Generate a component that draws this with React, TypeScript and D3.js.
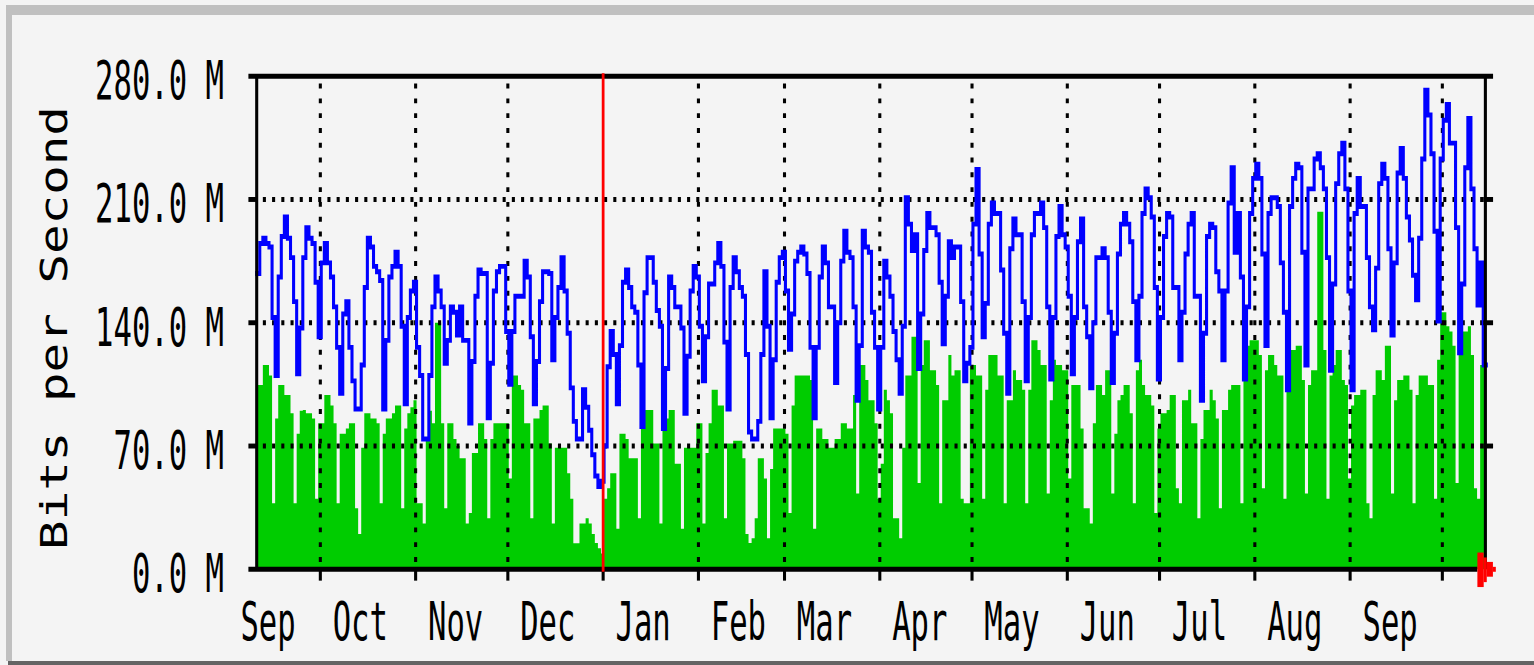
import React from "react";
import * as d3 from "d3";

// Daily average incoming traffic (green area), in Mbit/s
const avgIn: number[] = [
  104.6, 104.6, 116, 116, 110, 37.5, 85.7,
  104.6, 104.6, 99, 99, 88.6, 37.5, 77,
  90, 90.5, 88.6, 88.6, 85.7, 40, 83,
  83, 99, 99, 93, 83, 37.5, 77,
  77, 80, 83, 83, 34.6, 20, 69,
  88.6, 88.6, 85.7, 85.7, 83, 37.5, 77,
  85.7, 85.7, 88.6, 93, 93, 34.6, 80,
  88.6, 92, 96, 37.5, 37.5, 26, 74,
  90, 83, 140, 140, 83, 34.6, 83,
  83, 74, 70, 63, 63, 26, 32,
  66, 66, 83, 83, 74, 29, 74,
  83, 83, 83, 83, 83, 51.6, 110,
  110, 104.6, 102, 83, 83, 29, 85.7,
  85.7, 90.5, 93, 93, 71.5, 26, 69,
  69, 69, 69, 54.5, 40, 14.8, 14.8,
  26, 26, 29, 26, 20, 15, 12,
  9, 40, 46, 54.5, 54.5, 23, 77,
  77, 74, 63, 63, 63, 29, 90.5,
  90.5, 90.5, 90.5, 71.5, 71.5, 26, 85.7,
  85.7, 90.5, 90.5, 60, 60, 23, 69,
  69, 69, 69, 83, 83, 26, 66,
  83, 102, 102, 93, 93, 29, 71.5,
  71.5, 73, 73, 73, 63, 20, 15,
  17.6, 29, 63, 63, 51.6, 17.6, 57,
  80, 80, 80, 80, 77, 32, 93,
  110, 110, 110, 110, 110, 107.5, 23,
  80, 80, 74, 74, 69, 69, 74,
  74, 83, 83, 80, 80, 99, 43,
  116, 116, 107.5, 96, 96, 83, 40,
  60, 102, 96, 88.6, 29, 29, 17.6,
  69, 110, 110, 132, 132, 49, 116,
  130, 130, 113, 113, 104.6, 37.5, 96,
  96, 121.7, 110, 113, 113, 40, 37.5,
  37.5, 116, 116, 110, 110, 40, 102,
  121.7, 121.7, 121.7, 110, 110, 37.5, 96,
  96, 113, 107.5, 107.5, 102, 37.5, 102,
  130, 130, 124.5, 116, 116, 43, 96,
  119, 116, 116, 113, 113, 51.6, 104.6,
  104.6, 104.6, 80, 34.6, 34.6, 26, 83,
  104.6, 104.6, 99, 113, 113, 43, 77,
  96, 99, 104.6, 104.6, 88.6, 37.5, 113,
  119, 104.6, 99, 99, 93, 32, 80,
  88.6, 88.6, 90.5, 99, 99, 46, 37.5,
  96, 96, 102, 83, 83, 29, 74,
  90.5, 90.5, 102, 96, 85.7, 34.6, 90.5,
  90.5, 102, 104.6, 104.6, 104.6, 37.5, 107.5,
  127, 130, 130, 130, 121.7, 46, 113,
  121.7, 121.7, 116, 110, 110, 40, 102,
  124.5, 124.5, 127, 127, 107.5, 43, 104.6,
  113, 113, 203, 203, 124.5, 40, 110,
  116, 124.5, 124.5, 107.5, 104.6, 51.6, 93,
  99, 99, 102, 102, 37.5, 29, 99,
  113, 113, 107.5, 127, 127, 43, 96,
  107.5, 107.5, 110, 110, 102, 37.5, 99,
  110, 110, 110, 104.6, 104.6, 40, 119,
  146, 146, 138, 135, 127, 49, 121.7,
  135, 135, 138, 121.7, 46, 40, 116,
  116,
];

// Daily maximum outgoing traffic (blue line), in Mbit/s
const maxOut: number[] = [
  168, 185, 188, 185, 183, 143, 110,
  166, 189, 200, 188, 177, 152, 111,
  137, 177, 194, 188, 185, 163, 132,
  174, 185, 174, 166, 149, 126, 100,
  145, 152, 126, 107, 91, 91, 116,
  160, 188, 183, 172, 169, 164, 91,
  130, 166, 172, 180, 172, 138, 94,
  143, 158, 163, 126, 110, 74, 74,
  110, 149, 166, 158, 149, 117, 130,
  149, 146, 133, 149, 130, 130, 83,
  118, 155, 170, 168, 168, 86, 117,
  158, 169, 172, 172, 135, 105, 135,
  155, 155, 155, 175, 166, 132, 94,
  118, 152, 169, 169, 168, 119, 143,
  160, 177, 158, 134, 103, 84, 74,
  74, 102, 92, 79, 65, 53, 47,
  50, 70, 115, 135, 122, 94, 127,
  163, 170, 160, 149, 146, 116, 81,
  157, 177, 177, 163, 147, 138, 80,
  114, 166, 160, 149, 149, 137, 88.6,
  121, 158, 172, 166, 138, 107, 132,
  162, 162, 174, 185, 172, 129, 91,
  160, 177, 169, 160, 155, 122, 78,
  74, 74, 84, 122, 169, 138, 86,
  119, 163, 177, 180, 158, 125, 145,
  175, 180, 183, 179, 168, 126, 86,
  126, 166, 183, 174, 149, 149, 106,
  140, 175, 192, 180, 177, 149, 96,
  127, 192, 183, 180, 146, 126, 91,
  126, 175, 166, 155, 135, 119, 100,
  138, 211, 196, 181, 190, 114, 145,
  181, 202, 194, 194, 190, 163, 128,
  155, 186, 177, 183, 183, 152, 107,
  117, 126, 196, 227, 179, 132, 151,
  196, 208, 202, 202, 170, 134, 100,
  182, 199, 190, 190, 152, 107, 143,
  190, 202, 202, 208, 194, 149, 108,
  143, 189, 206, 190, 183, 155, 111,
  143, 186, 199, 149, 132, 103, 140,
  177, 177, 182, 177, 146, 106, 134,
  179, 196, 202, 196, 186, 152, 119,
  155, 202, 216, 211, 200, 160, 108,
  143, 189, 202, 200, 160, 160, 119,
  146, 179, 196, 202, 155, 155, 96,
  134, 189, 196, 194, 169, 158, 119,
  158, 208, 228, 180, 202, 166, 108,
  149, 202, 222, 230, 222, 179, 127,
  202, 211, 211, 206, 174, 146, 102,
  206, 222, 230, 228, 180, 116, 216,
  216, 233, 236, 228, 216, 177, 113,
  162, 219, 236, 242, 216, 158, 102,
  202, 222, 206, 206, 177, 149, 136,
  171, 219, 230, 222, 182, 133, 174,
  225, 239, 222, 200, 187, 167, 153,
  188, 233, 272, 258, 236, 192, 141,
  233, 255, 264, 242, 242, 194, 123,
  162, 228, 256, 216, 182, 150, 174,
  116,
];

const yTickValues: number[] = [0, 70, 140, 210, 280];
const yTickLabels: string[] = ["0.0 M", "70.0 M", "140.0 M", "210.0 M", "280.0 M"];
const monthLabels: string[] = ["Sep", "Oct", "Nov", "Dec", "Jan", "Feb", "Mar", "Apr", "May", "Jun", "Jul", "Aug", "Sep"];
const yAxisTitle = "Bits per Second";

const START = new Date(Date.UTC(2002, 8, 10, 7, 12));
const DAYS = 400;

export default function App() {
  const W = 1534;
  const H = 665;
  // MRTG native graph pixels -> screen scaling
  const SX = 3.074;
  const SY = 4.931;
  const OX = 256.7;
  const OY = 76.2;

  const end = d3.utcDay.offset(START, DAYS);
  const x = d3.scaleUtc().domain([START, end]).range([0, DAYS]);
  const y = d3.scaleLinear().domain([0, 280]).range([100, 0]);

  const dates = d3.range(DAYS + 1).map((i) => d3.utcDay.offset(START, i));
  const pts = (vals: number[]): [number, number][] =>
    dates.map((d, i) => [x(d), y(vals[Math.min(i, vals.length - 1)])] as [number, number]);

  const area = d3
    .area<[number, number]>()
    .x((p) => p[0])
    .y0(y(0))
    .y1((p) => p[1])
    .curve(d3.curveStepAfter);
  const line = d3
    .line<[number, number]>()
    .x((p) => p[0])
    .y((p) => p[1])
    .curve(d3.curveStepAfter);

  const gridMonths = d3.utcMonth.range(new Date(Date.UTC(2002, 9, 1)), end);
  const labelMonths = d3.utcMonth.range(new Date(Date.UTC(2002, 8, 1)), new Date(Date.UTC(2003, 9, 1)));
  const yearStart = new Date(Date.UTC(2003, 0, 1));

  const sx = (v: number) => OX + SX * v;
  const sy = (v: number) => OY + SY * v;

  const x0 = x(START);
  const x1 = x(end);
  const font = "'DejaVu Sans Mono', monospace";

  return (
    <svg
      width={W}
      height={H}
      viewBox={`0 0 ${W} ${H}`}
      style={{ position: "absolute", left: 0, top: 0, display: "block" }}
    >
      <rect x={0} y={0} width={W} height={H} fill="#f4f4f4" />
      <rect x={6} y={5} width={W - 6} height={10} fill="#c0c0c0" />
      <rect x={6} y={5} width={6} height={656} fill="#c0c0c0" />
      <rect x={8} y={661} width={W - 8} height={4} fill="#646464" />

      <g transform={`translate(${OX},${OY}) scale(${SX},${SY})`}>
        <path d={area(pts(avgIn)) || ""} fill="#00cc00" />

        {yTickValues
          .filter((v) => v > 0 && v < 280)
          .map((v) => (
            <line
              key={"hg" + v}
              x1={x0}
              x2={x1}
              y1={y(v)}
              y2={y(v)}
              stroke="#000"
              strokeWidth={1}
              strokeDasharray="1 2"
              strokeDashoffset={1}
            />
          ))}
        {gridMonths
          .filter((m) => +m !== +yearStart)
          .map((m) => (
            <line
              key={"vg" + +m}
              x1={x(m)}
              x2={x(m)}
              y1={y(280)}
              y2={y(0)}
              stroke="#000"
              strokeWidth={1}
              strokeDasharray="1 2"
              strokeDashoffset={1.5}
            />
          ))}

        <path
          d={line(pts(maxOut)) || ""}
          fill="none"
          stroke="#0000ff"
          strokeWidth={1}
          strokeLinejoin="miter"
          strokeLinecap="square"
        />

        {/* axes frame */}
        <line x1={x0 - 2.7} x2={x1 + 2.2} y1={y(280)} y2={y(280)} stroke="#000" strokeWidth={1} />
        <line x1={x0 - 2.7} x2={x1 - 2.9} y1={y(0)} y2={y(0)} stroke="#000" strokeWidth={1} />
        <line x1={x0} x2={x0} y1={y(280)} y2={y(0)} stroke="#000" strokeWidth={1} />
        <line x1={x1 - 0.3} x2={x1 - 0.3} y1={y(280)} y2={y(0)} stroke="#000" strokeWidth={1} />
        {yTickValues
          .filter((v) => v > 0 && v < 280)
          .map((v) => (
            <g key={"tk" + v}>
              <line x1={x0 - 2.7} x2={x0} y1={y(v)} y2={y(v)} stroke="#000" strokeWidth={1} />
              <line x1={x1 - 1} x2={x1 + 2.2} y1={y(v)} y2={y(v)} stroke="#000" strokeWidth={1} />
            </g>
          ))}
        {gridMonths.map((m) => (
          <line key={"mt" + +m} x1={x(m)} x2={x(m)} y1={y(0)} y2={y(0) + 2.3} stroke="#000" strokeWidth={1} />
        ))}

        {/* year boundary */}
        <line x1={x(yearStart)} x2={x(yearStart)} y1={y(280) - 0.6} y2={y(0) + 0.5} stroke="#ff0000" strokeWidth={0.9} />

        {/* red arrow at end of time axis */}
        <rect x={x1 - 2.9} y={y(0) - 3.4} width={2.05} height={7} fill="#ff0000" />
        <rect x={x1 - 0.9} y={y(0) - 2.4} width={1.05} height={5} fill="#ff0000" />
        <rect x={x1 + 0.1} y={y(0) - 1.5} width={2.05} height={3} fill="#ff0000" />
        <rect x={x1 + 2.1} y={y(0) - 0.5} width={1} height={1} fill="#ff0000" />
      </g>

      {/* y tick labels */}
      {yTickValues.map((v, i) => (
        <text
          key={"yl" + v}
          transform={`translate(224,${sy(y(v)) + 23}) scale(1,1.75)`}
          textAnchor="end"
          fontFamily={font}
          fontSize={30.6}
          fill="#000"
        >
          {yTickLabels[i]}
        </text>
      ))}

      {/* month labels */}
      {labelMonths.map((m, i) => (
        <text
          key={"ml" + +m}
          transform={`translate(${sx(x(d3.utcDay.offset(m, 13)))},640) scale(1,1.75)`}
          textAnchor="middle"
          fontFamily={font}
          fontSize={30.6}
          fill="#000"
        >
          {monthLabels[i]}
        </text>
      ))}

      {/* y axis title */}
      <text
        transform={`translate(66.7,328) rotate(-90) scale(1.607,1.2)`}
        textAnchor="middle"
        fontFamily={font}
        fontSize={30.6}
        fill="#000"
      >
        {yAxisTitle}
      </text>
    </svg>
  );
}
